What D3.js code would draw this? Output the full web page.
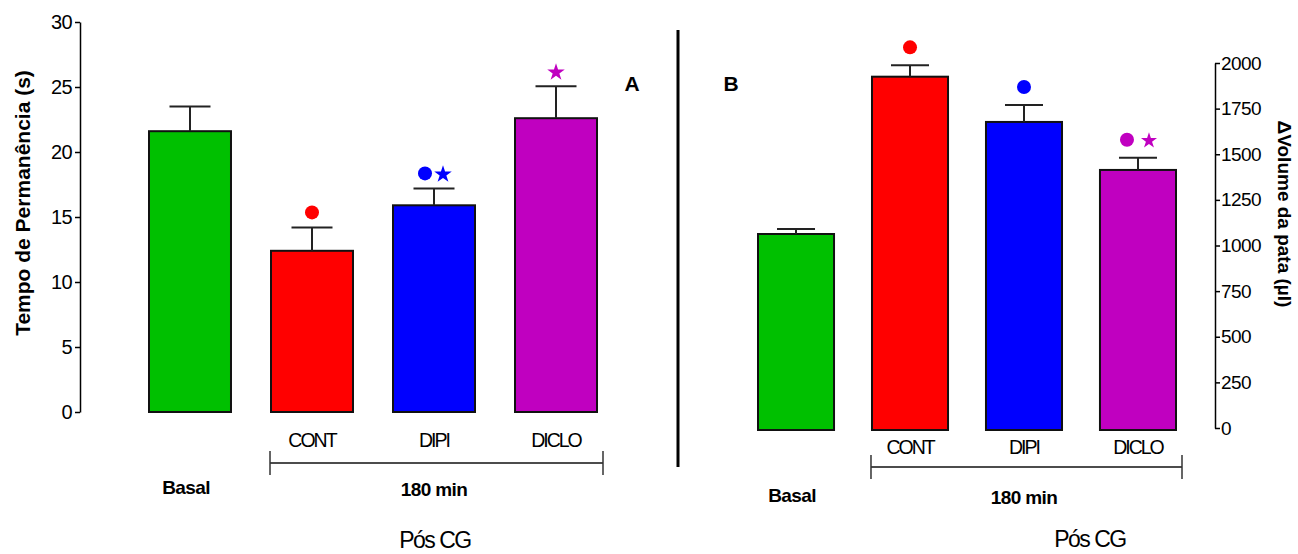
<!DOCTYPE html>
<html>
<head>
<meta charset="utf-8">
<script src="https://cdn.jsdelivr.net/npm/d3@7"></script>
<style>
  body { margin: 0; background: #fff; }
  svg { font-family: "Liberation Sans", Arial, sans-serif; }
  .axis text { fill: #000; }
  .axis path, .axis line { stroke: #000; stroke-width: 1.5; }
</style>
</head>
<body>
<svg id="chart" width="1298" height="554"></svg>
<script>
// groups and colours
const categories = ["Basal", "CONT", "DIPI", "DICLO"];
const barColors = ["#00c000", "#ff0000", "#0000ff", "#c000c0"];

// panel A: tempo de permanencia (s)
const tempoMean = [21.6, 12.4, 15.9, 22.6];
const tempoErr = [1.9, 1.8, 1.3, 2.45];
const tempoTicks = [0, 5, 10, 15, 20, 25, 30];
const tempoMarks = [[], ["circle"], ["circle", "star"], ["star"]];

// panel B: delta volume da pata (ul)
const volumeMean = [1063, 1925, 1677, 1414];
const volumeErr = [27, 62, 93, 67];
const volumeTicks = [0, 250, 500, 750, 1000, 1250, 1500, 1750, 2000];
const volumeMarks = [[], ["circle"], ["circle"], ["circle", "star"]];

const svg = d3.select("#chart");

function panel(opt) {
  const g = svg.append("g");
  const x = d3.scaleBand().domain(categories).range(opt.xRange)
    .paddingInner(opt.pad).paddingOuter(0);
  const y = d3.scaleLinear().domain(opt.yDomain).range(opt.yRange);

  // axis
  const axis = (opt.side === "left" ? d3.axisLeft(y) : d3.axisRight(y))
    .tickValues(opt.ticks).tickFormat(d3.format("d"))
    .tickSize(5).tickSizeOuter(0).tickPadding(opt.tickPad);
  g.append("g").attr("class", "axis")
    .attr("transform", `translate(${opt.axisX},0)`)
    .call(axis)
    .selectAll("text").style("font-size", opt.tickFont + "px")
    .style("letter-spacing", "-0.6px");

  // bars
  g.selectAll("rect.bar").data(categories).enter().append("rect")
    .attr("class", "bar")
    .attr("x", d => x(d))
    .attr("y", (d, i) => y(opt.mean[i]))
    .attr("width", x.bandwidth())
    .attr("height", (d, i) => y(0) - y(opt.mean[i]) + opt.baseExtra)
    .attr("fill", (d, i) => barColors[i])
    .attr("stroke", "#111")
    .attr("stroke-width", 2);

  // upper error bars
  const cap = opt.cap;
  categories.forEach((d, i) => {
    const cx = x(d) + x.bandwidth() / 2;
    const top = y(opt.mean[i] + opt.err[i]);
    g.append("line").attr("x1", cx).attr("x2", cx)
      .attr("y1", y(opt.mean[i])).attr("y2", top)
      .attr("stroke", "#222").attr("stroke-width", 2);
    g.append("line").attr("x1", cx - cap).attr("x2", cx + cap)
      .attr("y1", top).attr("y2", top)
      .attr("stroke", "#222").attr("stroke-width", 2);

    // significance markers
    const marks = opt.marks[i];
    const my = top - opt.markGap;
    marks.forEach((m, k) => {
      const off = marks.length === 1 ? 0 : (k === 0 ? -opt.pairOff : opt.pairOff);
      const mx = cx + off;
      if (m === "circle") {
        g.append("circle").attr("cx", mx).attr("cy", my).attr("r", opt.dotR)
          .attr("fill", barColors[i]);
      } else {
        g.append("path")
          .attr("d", d3.symbol().type(d3.symbolStar).size(opt.starSize)())
          .attr("transform", `translate(${mx},${my + 1})`)
          .attr("fill", barColors[i]);
      }
    });
  });

  // category labels
  categories.forEach((d, i) => {
    const cx = x(d) + x.bandwidth() / 2;
    if (i === 0) {
      g.append("text").attr("x", cx - 4).attr("y", opt.lowY)
        .attr("text-anchor", "middle").style("font-size", "19px")
        .style("font-weight", "bold").style("letter-spacing", "-0.6px").text(d);
    } else {
      g.append("text").attr("x", cx).attr("y", opt.catY)
        .attr("text-anchor", "middle").style("font-size", "19.5px")
        .style("letter-spacing", "-2px").text(d);
    }
  });

  // bracket under treated groups
  const bx0 = x("CONT") - 1, bx1 = x("DICLO") + x.bandwidth() + 6;
  const by = opt.bracketY;
  g.append("line").attr("x1", bx0).attr("x2", bx1).attr("y1", by).attr("y2", by)
    .attr("stroke", "#111").attr("stroke-width", 1.5);
  [bx0, bx1].forEach(bx => g.append("line").attr("x1", bx).attr("x2", bx)
    .attr("y1", by - 12).attr("y2", by + 12).attr("stroke", "#333").attr("stroke-width", 1.5));
  g.append("text").attr("x", x("DIPI") + x.bandwidth() / 2).attr("y", opt.lowY + 2)
    .attr("text-anchor", "middle").style("font-size", "19px")
    .style("font-weight", "bold").style("letter-spacing", "-0.6px").text("180 min");

  g.append("text").attr("x", opt.posX).attr("y", opt.posY)
    .attr("text-anchor", "middle").style("font-size", "23px")
    .style("letter-spacing", "-1.5px").text("Pós CG");

  // panel letter
  g.append("text").attr("x", opt.letterX).attr("y", 91)
    .attr("text-anchor", "middle").style("font-size", "21px")
    .style("font-weight", "bold").text(opt.letter);

  // y title
  g.append("text")
    .attr("transform", `translate(${opt.titleX},${opt.titleY}) rotate(${opt.titleRot})`)
    .attr("text-anchor", "middle").style("font-size", opt.titleFont + "px")
    .style("font-weight", "bold").text(opt.title);
}

panel({
  xRange: [149, 597], pad: 0.328,
  yDomain: [0, 30], yRange: [412, 22], ticks: tempoTicks,
  side: "left", axisX: 80, tickPad: 3, tickFont: 20,
  mean: tempoMean, err: tempoErr, marks: tempoMarks, baseExtra: 0,
  cap: 20.5, markGap: 15, dotR: 7, starSize: 95, pairOff: 9,
  catY: 447, bracketY: 463, lowY: 494, posX: 435, posY: 548,
  letter: "A", letterX: 632,
  title: "Tempo de Permanência (s)", titleX: 30, titleY: 203, titleRot: -90, titleFont: 21
});

panel({
  xRange: [758, 1176], pad: 0.333,
  yDomain: [0, 2000], yRange: [428, 63], ticks: volumeTicks,
  side: "right", axisX: 1215, tickPad: 1, tickFont: 19,
  mean: volumeMean, err: volumeErr, marks: volumeMarks, baseExtra: 2,
  cap: 19, markGap: 18, dotR: 7, starSize: 80, pairOff: 11,
  catY: 454, bracketY: 467, lowY: 502, posX: 1090, posY: 547,
  letter: "B", letterX: 731,
  title: "ΔVolume da pata (µl)", titleX: 1278, titleY: 214, titleRot: 90, titleFont: 19
});

// divider between panels
svg.append("line").attr("x1", 678).attr("x2", 678).attr("y1", 30).attr("y2", 467)
  .attr("stroke", "#000").attr("stroke-width", 3);
</script>
</body>
</html>
